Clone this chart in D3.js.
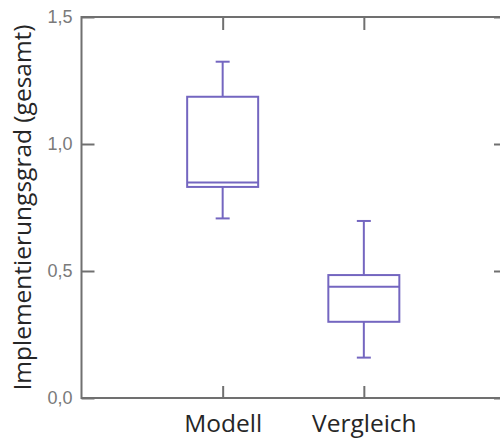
<!DOCTYPE html>
<meta charset="utf-8">
<script src="https://d3js.org/d3.v7.min.js"></script>
<style>
  body { margin: 0; background: #fff; }
</style>
<svg id="chart" width="500" height="439"></svg>
<script>

// box plot values
const categories = ["Modell", "Vergleich"];
const whiskerLow  = [0.707, 0.159];
const q1          = [0.831, 0.300];
const median      = [0.848, 0.438];
const q3          = [1.186, 0.484];
const whiskerHigh = [1.324, 0.697];
const yTicks = [0, 0.5, 1.0, 1.5];

const rows = categories.map((c, i) => ({
  name: c, lo: whiskerLow[i], q1: q1[i], med: median[i], q3: q3[i], hi: whiskerHigh[i]
}));

const svg = d3.select("#chart");
const mLeft = 81.5, mRight = 505, mTop = 17, mBottom = 398;

const x = d3.scalePoint()
  .domain(categories)
  .range([mLeft, mRight])
  .padding(1);

const y = d3.scaleLinear()
  .domain([0, 1.5])
  .range([mBottom, mTop]);

const axisColor = "#707070";
const boxColor = "#7466c0";
const fmt = d => d3.format(".1f")(d).replace(".", ",");

// frame
svg.append("rect")
  .attr("x", mLeft).attr("y", mTop)
  .attr("width", 508 - mLeft).attr("height", mBottom - mTop)
  .attr("fill", "none")
  .attr("stroke", axisColor)
  .attr("stroke-width", 2);

// left axis
const gl = svg.append("g")
  .attr("transform", `translate(${mLeft},0)`)
  .call(d3.axisLeft(y).tickValues(yTicks).tickFormat(fmt).tickSize(-13).tickPadding(9));
gl.select(".domain").remove();
gl.selectAll("line").attr("stroke", axisColor).attr("stroke-width", 2);
gl.selectAll("text")
  .attr("fill", "#7a7a7a")
  .style("font-family", "'Liberation Sans', Arial, sans-serif")
  .style("font-size", "18px");

// right axis
const gr = svg.append("g")
  .attr("transform", "translate(508,0)")
  .call(d3.axisRight(y).tickValues(yTicks).tickFormat("").tickSize(-14));
gr.select(".domain").remove();
gr.selectAll("line").attr("stroke", axisColor).attr("stroke-width", 2);

// bottom axis
const gb = svg.append("g")
  .attr("transform", `translate(0,${mBottom})`)
  .call(d3.axisBottom(x).tickSize(-12).tickPadding(34));
gb.select(".domain").remove();
gb.selectAll("line").attr("stroke", axisColor).attr("stroke-width", 2);
gb.selectAll("text")
  .attr("fill", "#262626")
  .attr("dy", "0")
  .style("font-family", "'Open Sans', sans-serif")
  .style("font-size", "24.5px");

// top axis ticks
const gt = svg.append("g")
  .attr("transform", `translate(0,${mTop})`)
  .call(d3.axisTop(x).tickSize(-13).tickFormat(""));
gt.select(".domain").remove();
gt.selectAll("line").attr("stroke", axisColor).attr("stroke-width", 2);

// y title
svg.append("text")
  .attr("transform", `translate(31,${(mTop + mBottom) / 2}) rotate(-90)`)
  .attr("text-anchor", "middle")
  .attr("fill", "#262626")
  .style("font-family", "'Open Sans', sans-serif")
  .style("font-size", "24.5px")
  .text("Implementierungsgrad (gesamt)");

// boxes
const boxW = 71, capW = 14;
const g = svg.append("g")
  .selectAll("g")
  .data(rows)
  .join("g")
  .attr("stroke", boxColor)
  .attr("stroke-width", 2)
  .attr("fill", "none");

g.append("line")
  .attr("x1", d => x(d.name)).attr("x2", d => x(d.name))
  .attr("y1", d => y(d.hi)).attr("y2", d => y(d.q3));
g.append("line")
  .attr("x1", d => x(d.name)).attr("x2", d => x(d.name))
  .attr("y1", d => y(d.q1)).attr("y2", d => y(d.lo));
g.append("line")
  .attr("x1", d => x(d.name) - capW / 2).attr("x2", d => x(d.name) + capW / 2)
  .attr("y1", d => y(d.hi)).attr("y2", d => y(d.hi));
g.append("line")
  .attr("x1", d => x(d.name) - capW / 2).attr("x2", d => x(d.name) + capW / 2)
  .attr("y1", d => y(d.lo)).attr("y2", d => y(d.lo));
g.append("rect")
  .attr("x", d => x(d.name) - boxW / 2)
  .attr("y", d => y(d.q3))
  .attr("width", boxW)
  .attr("height", d => y(d.q1) - y(d.q3));
g.append("line")
  .attr("x1", d => x(d.name) - boxW / 2).attr("x2", d => x(d.name) + boxW / 2)
  .attr("y1", d => y(d.med)).attr("y2", d => y(d.med));

</script>
